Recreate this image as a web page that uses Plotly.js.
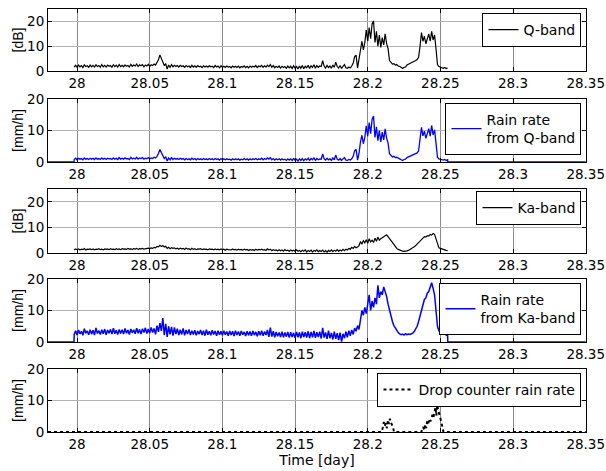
<!DOCTYPE html>
<html>
<head>
<meta charset="utf-8">
<script src="https://cdn.plot.ly/plotly-3.0.1.min.js"></script>
<style>
html,body{margin:0;padding:0;background:#fff;}
#chart{width:606px;height:471px;}
</style>
</head>
<body>
<div id="chart"></div>
<script>
// ---------- sample times [day] ----------
const time = [
27.998,27.999,
28.000,28.001,28.002,28.003,28.004,28.005,28.006,28.007,28.008,28.009,
28.010,28.011,28.012,28.013,28.014,28.015,28.016,28.017,28.018,28.019,
28.020,28.021,28.022,28.023,28.024,28.025,28.026,28.027,28.028,28.029,
28.030,28.031,28.032,28.033,28.034,28.035,28.036,28.037,28.038,28.039,
28.040,28.041,28.042,28.043,28.044,28.045,28.046,28.047,28.048,28.049,
28.050,28.051,28.052,28.053,28.054,28.055,28.056,28.057,28.058,28.059,
28.060,28.061,28.062,28.063,28.064,28.065,28.066,28.067,28.068,28.069,
28.070,28.071,28.072,28.073,28.074,28.075,28.076,28.077,28.078,28.079,
28.080,28.081,28.082,28.083,28.084,28.085,28.086,28.087,28.088,28.089,
28.090,28.091,28.092,28.093,28.094,28.095,28.096,28.097,28.098,28.099,
28.100,28.101,28.102,28.103,28.104,28.105,28.106,28.107,28.108,28.109,
28.110,28.111,28.112,28.113,28.114,28.115,28.116,28.117,28.118,28.119,
28.120,28.121,28.122,28.123,28.124,28.125,28.126,28.127,28.128,28.129,
28.130,28.131,28.132,28.133,28.134,28.135,28.136,28.137,28.138,28.139,
28.140,28.141,28.142,28.143,28.144,28.145,28.146,28.147,28.148,28.149,
28.150,28.151,28.152,28.153,28.154,28.155,28.156,28.157,28.158,28.159,
28.160,28.161,28.162,28.163,28.164,28.165,28.166,28.167,28.168,28.169,
28.170,28.171,28.172,28.173,28.174,28.175,28.176,28.177,28.178,28.179,
28.180,28.181,28.182,28.183,28.184,28.185,28.186,28.187,28.188,28.189,
28.190,28.191,28.192,28.193,28.194,28.195,28.196,28.197,28.198,28.199,
28.200,28.201,28.202,28.203,28.204,28.205,28.206,28.207,28.208,28.209,
28.210,28.211,28.212,28.213,28.214,28.215,28.216,28.217,28.218,28.219,
28.220,28.221,28.222,28.223,28.224,28.225,28.226,28.227,28.228,28.229,
28.230,28.231,28.232,28.233,28.234,28.235,28.236,28.237,28.238,28.239,
28.240,28.241,28.242,28.243,28.244,28.245,28.246,28.247,28.248,28.249,
28.250,28.251,28.252,28.253,28.254,28.255
];

// ---------- Q-band attenuation [dB] ----------
const qBand = [
1.6,2.3,
1.5,2.4,1.7,2.2,1.4,2.5,1.8,2.1,1.5,2.4,
1.7,2.3,1.6,2.5,1.8,2.2,1.5,2.6,1.7,2.3,
1.6,2.4,1.9,2.2,1.5,2.5,1.8,2.4,1.6,2.6,
1.8,2.3,1.7,2.5,1.9,2.2,1.6,2.7,1.9,2.4,
2.0,2.8,1.8,2.5,2.1,2.6,1.7,2.4,2.0,2.7,
1.9,2.5,2.2,2.8,2.4,3.2,4.5,6.5,5.0,3.6,
2.2,3.0,0.8,2.4,1.5,2.6,1.7,2.3,1.8,2.2,
1.6,2.3,1.8,2.1,1.5,2.2,1.7,2.0,1.4,2.3,
1.6,2.1,1.5,2.2,1.7,1.9,1.4,2.1,1.6,2.0,
1.5,2.1,1.7,1.9,1.4,2.2,1.6,2.0,1.3,2.1,
1.5,1.9,1.4,2.0,1.6,1.8,1.3,2.0,1.5,1.9,
1.4,2.0,1.3,1.8,1.5,2.1,1.4,1.9,1.3,2.0,
1.5,1.9,1.6,2.2,1.4,2.0,1.7,2.3,1.5,2.1,
1.6,2.4,1.8,2.6,1.5,2.2,1.3,1.9,1.4,2.0,
1.2,1.9,1.4,1.8,1.1,2.0,1.3,1.9,1.0,2.1,
1.2,1.8,0.8,2.0,1.1,2.2,0.9,1.9,1.3,2.3,
1.0,2.1,1.4,2.5,1.1,2.2,1.5,2.0,1.8,4.2,
2.0,1.2,2.3,1.4,2.0,1.1,2.4,1.5,3.6,1.8,
1.2,2.2,1.0,1.9,2.6,1.3,1.1,1.6,1.2,2.0,
3.2,5.8,6.4,1.2,4.5,9.5,12.0,8.5,11.5,16.5,
12.0,17.5,13.0,19.0,20.2,11.5,16.0,10.0,14.5,9.5,
13.5,10.5,15.0,11.0,9.0,4.2,3.2,2.8,3.0,2.4,
2.6,2.0,1.9,1.4,1.0,1.5,1.6,2.4,2.8,3.0,
3.3,3.6,3.8,4.2,4.6,5.5,10.0,15.5,12.0,14.0,
11.0,13.0,15.0,12.0,16.0,12.5,14.5,9.0,2.6,1.8,
1.6,1.3,1.1,1.4,1.0,1.2
];

// ---------- rain rate from Q-band [mm/h] ----------
const rainQ = [
0.8,1.2,
0.7,1.2,0.9,1.1,0.7,1.3,0.9,1.1,0.8,1.2,
0.9,1.2,0.8,1.3,0.9,1.1,0.8,1.3,0.9,1.2,
0.8,1.2,1.0,1.1,0.8,1.3,0.9,1.2,0.8,1.4,
0.9,1.2,0.9,1.3,1.0,1.1,0.8,1.5,1.0,1.2,
1.0,1.5,0.9,1.3,1.1,1.4,0.9,1.2,1.0,1.4,
1.0,1.3,1.1,1.5,1.3,1.8,2.7,4.0,3.0,2.1,
1.1,1.7,0.3,1.3,0.7,1.4,0.8,1.2,0.9,1.1,
0.8,1.2,0.9,1.1,0.7,1.1,0.8,1.0,0.7,1.2,
0.8,1.1,0.7,1.1,0.8,1.0,0.7,1.1,0.8,1.0,
0.7,1.1,0.8,1.0,0.7,1.1,0.8,1.0,0.6,1.1,
0.7,1.0,0.7,1.0,0.8,0.9,0.6,1.0,0.7,1.0,
0.7,1.0,0.6,0.9,0.7,1.1,0.7,1.0,0.6,1.0,
0.7,1.0,0.8,1.1,0.7,1.0,0.8,1.2,0.7,1.1,
0.8,1.3,0.9,1.4,0.7,1.1,0.6,1.0,0.7,1.0,
0.6,1.0,0.7,0.9,0.5,1.0,0.6,1.0,0.5,1.1,
0.6,0.9,0.3,1.0,0.5,1.1,0.4,1.0,0.6,1.2,
0.5,1.1,0.7,1.3,0.5,1.1,0.7,1.0,0.9,2.6,
1.0,0.6,1.2,0.7,1.0,0.5,1.3,0.7,2.2,0.9,
0.6,1.1,0.5,1.0,1.4,0.6,0.5,0.8,0.6,1.0,
1.8,3.6,4.0,0.6,2.7,6.3,8.5,5.8,7.8,11.5,
8.2,12.5,9.0,13.5,14.6,7.8,11.2,6.8,10.0,6.4,
9.5,7.0,10.5,7.6,6.0,2.6,1.9,1.6,1.8,1.4,
1.5,1.1,1.0,0.7,0.5,0.8,0.9,1.4,1.6,1.8,
2.0,2.2,2.3,2.6,2.9,3.5,7.0,11.0,8.3,9.8,
7.5,9.0,10.6,8.2,11.6,8.6,10.2,6.0,1.5,1.0,
0.9,0.7,0.6,0.8,0.5,0.7
];

// ---------- Ka-band attenuation [dB] ----------
const kaBand = [
1.2,1.6,
1.3,1.6,1.2,1.5,1.3,1.7,1.2,1.5,1.4,1.6,
1.3,1.6,1.2,1.5,1.4,1.7,1.3,1.5,1.2,1.6,
1.4,1.6,1.3,1.7,1.4,1.5,1.3,1.7,1.4,1.6,
1.3,1.7,1.5,1.6,1.4,1.8,1.5,1.6,1.4,1.7,
1.5,1.8,1.4,1.7,1.6,1.8,1.5,1.7,1.6,1.9,
1.7,2.0,1.8,2.2,2.0,2.6,2.4,3.0,2.5,2.9,
2.3,2.6,1.8,2.2,1.7,2.1,1.8,2.0,1.6,1.9,
1.5,1.9,1.6,1.8,1.4,1.9,1.5,1.7,1.3,1.8,
1.4,1.7,1.3,1.6,1.5,1.7,1.3,1.6,1.4,1.5,
1.2,1.6,1.4,1.5,1.2,1.6,1.3,1.5,1.2,1.6,
1.3,1.5,1.1,1.5,1.3,1.4,1.2,1.6,1.2,1.4,
1.1,1.5,1.2,1.4,1.1,1.5,1.2,1.4,1.0,1.4,
1.1,1.3,1.0,1.5,1.1,1.4,1.2,1.5,1.1,1.3,
1.0,1.6,1.2,1.5,0.9,1.3,1.0,1.2,0.8,1.3,
0.9,1.2,0.7,1.3,0.9,1.1,0.6,1.2,0.8,1.1,
0.6,1.2,0.7,1.0,0.5,1.1,0.7,1.2,0.4,1.0,
0.6,1.1,0.4,1.0,0.7,1.2,0.5,1.0,0.6,1.1,
0.4,0.9,0.3,1.0,0.6,1.2,0.5,1.1,0.7,1.3,
0.6,1.2,0.8,1.4,0.9,1.5,1.2,1.8,1.5,2.2,
1.8,2.6,2.0,2.3,2.9,4.3,3.6,4.8,4.0,5.2,
3.8,5.6,4.3,5.0,4.1,5.8,4.6,6.2,5.0,5.6,
6.0,6.4,6.9,7.1,6.4,5.6,4.6,3.7,2.9,2.3,
1.8,1.4,1.1,0.8,0.7,0.6,0.6,0.8,1.0,1.3,
1.6,2.0,2.4,2.9,3.5,4.2,4.8,5.5,5.9,6.4,
6.2,6.8,6.6,7.2,7.0,7.6,7.3,5.4,3.0,2.0,
1.8,1.5,1.3,1.2,1.0,0.9
];

// ---------- rain rate from Ka-band [mm/h] ----------
const rainKa = [
2.4,3.6,
2.2,3.8,2.6,3.4,2.1,4.2,2.8,3.5,2.3,3.9,
2.5,3.7,2.2,4.5,2.7,3.6,2.4,3.9,2.6,4.1,
2.3,3.8,2.8,4.0,2.5,4.4,2.6,3.7,2.4,4.0,
2.7,3.9,2.5,4.3,2.8,3.8,2.4,4.1,2.9,3.9,
2.6,4.4,2.8,4.0,2.5,4.2,3.0,4.5,2.7,4.1,
2.8,4.6,3.0,4.3,2.4,5.2,3.2,6.0,3.5,7.6,
2.2,5.8,1.6,5.0,2.4,4.8,2.0,4.6,2.5,4.2,
2.2,3.9,2.4,4.3,2.1,3.8,2.5,4.0,2.2,3.6,
2.4,3.7,2.1,3.5,2.5,3.8,2.2,3.6,2.0,3.9,
2.3,3.4,2.1,3.7,2.4,3.5,2.0,3.6,2.3,3.4,
2.1,3.6,2.3,3.3,2.0,3.5,2.2,3.4,1.9,3.6,
2.2,3.3,2.0,3.5,2.3,3.2,1.9,3.4,2.1,3.3,
2.0,3.5,2.2,3.2,1.8,3.4,2.1,3.6,2.0,3.3,
2.2,3.8,1.6,4.6,1.7,3.4,1.5,3.2,1.8,3.0,
1.6,3.3,1.5,3.0,1.7,3.2,1.4,3.1,1.6,2.9,
1.3,3.2,1.5,3.0,1.2,3.3,1.6,3.1,1.4,3.4,
1.2,3.2,1.5,3.5,1.3,3.1,1.6,3.3,1.1,4.5,
1.4,3.0,1.0,3.6,1.2,2.9,0.8,3.3,1.0,2.8,
0.6,3.0,0.1,2.6,1.2,3.3,1.5,3.6,2.0,3.8,
2.4,4.4,3.4,5.2,4.0,6.8,10.0,8.5,11.0,9.0,
12.0,15.0,10.0,13.0,11.0,14.0,12.0,18.0,14.0,16.0,
15.0,17.5,16.0,14.5,12.0,10.0,8.0,6.5,5.2,4.3,
3.6,3.0,2.6,2.3,2.5,2.2,2.6,2.3,2.5,2.4,
2.6,2.8,3.3,4.0,5.0,6.5,8.5,10.5,12.0,13.5,
14.0,15.5,16.0,17.5,18.8,17.0,15.0,10.0,5.0,3.5,
3.0,2.6,3.2,2.5,2.2,2.0
];

// ---------- zero rain rate outside the measured interval ----------
const edgeTimeStart = [27.98, 27.9979];
const edgeTimeEnd = [28.2551, 28.35];
const edgeZero = [0, 0];

// ---------- drop counter rain rate [mm/h] ----------
const dropTime = [
27.98,
28.2097,28.2104,28.2111,28.2118,28.2125,28.2132,28.2139,28.2146,28.2153,28.2160,28.2167,28.2174,28.2181,
28.2368,28.2375,28.2382,28.2389,28.2396,28.2403,28.2410,28.2417,28.2424,28.2431,28.2438,28.2445,
28.2452,28.2459,28.2466,28.2472,28.2479,28.2486,28.2493,28.2500,28.2507,28.2514,28.2521,
28.35
];
const dropRate = [
0,
0,1.5,3.2,2.0,2.8,1.2,3.8,2.5,4.2,3.0,2.2,1.6,0,
0,0.8,1.6,0.5,2.4,1.2,3.6,2.8,4.2,3.4,4.0,5.5,
4.6,6.2,7.8,5.2,8.6,6.8,5.8,4.4,3.0,1.4,0,
0
];

// ---------- ticks and labels ----------
const xTickVals = [28, 28.05, 28.1, 28.15, 28.2, 28.25, 28.3, 28.35];
const xTickText = ["28", "28.05", "28.1", "28.15", "28.2", "28.25", "28.3", "28.35"];
const yTickVals = [0, 10, 20];
const seriesNames = ["Q-band", "Rain rate<br>from Q-band", "Ka-band", "Rain rate<br>from Ka-band", "Drop counter rain rate"];
const yTitles = ["[dB]", "[mm/h]", "[dB]", "[mm/h]", "[mm/h]"];

const rqTime = edgeTimeStart.concat(time, edgeTimeEnd);
const rqVals = edgeZero.concat(rainQ, edgeZero);
const rkVals = edgeZero.concat(rainKa, edgeZero);

const BLUE = "#0000ff";
const traces = [
  {x: time, y: qBand, xaxis: "x", yaxis: "y", name: seriesNames[0], legend: "legend",
   mode: "lines", line: {color: "#000", width: 1.2}},
  {x: rqTime, y: rqVals, xaxis: "x2", yaxis: "y2", name: seriesNames[1], legend: "legend2",
   mode: "lines", line: {color: BLUE, width: 1.3}},
  {x: time, y: kaBand, xaxis: "x3", yaxis: "y3", name: seriesNames[2], legend: "legend3",
   mode: "lines", line: {color: "#000", width: 1.2}},
  {x: rqTime, y: rkVals, xaxis: "x4", yaxis: "y4", name: seriesNames[3], legend: "legend4",
   mode: "lines", line: {color: BLUE, width: 1.5}},
  {x: dropTime, y: dropRate, xaxis: "x5", yaxis: "y5", name: seriesNames[4], legend: "legend5",
   mode: "lines", line: {color: "#000", width: 2, dash: "dot"}}
];

const TICKFONT = {family: "DejaVu Sans", size: 13.5, color: "#000"};
function xAxis(anchor, withTitle) {
  const a = {
    anchor: anchor, range: [27.98, 28.3502], tickmode: "array",
    tickvals: xTickVals, ticktext: xTickText, tickfont: TICKFONT,
    ticklabeloverflow: "allow",
    showline: true, linecolor: "#000", linewidth: 1, mirror: "ticks",
    ticks: "inside", ticklen: 4, tickcolor: "#000", tickwidth: 1,
    showgrid: true, gridcolor: "#8c8c8c", gridwidth: 1, zeroline: false
  };
  if (withTitle) a.title = {text: "Time [day]", font: {family: "DejaVu Sans", size: 14, color: "#000"}, standoff: 2};
  return a;
}
function yAxis(anchor, domain, top, title) {
  return {
    anchor: anchor, domain: domain, range: [0, top], tickmode: "array",
    tickvals: yTickVals, tickfont: TICKFONT,
    showline: true, linecolor: "#000", linewidth: 1, mirror: "ticks",
    ticks: "inside", ticklen: 4, tickcolor: "#000", tickwidth: 1,
    showgrid: true, gridcolor: "#b4b4b4", gridwidth: 1, zeroline: false,
    title: {text: title, font: {family: "Liberation Sans, Arial", size: 14, color: "#000"}, standoff: 0}
  };
}
function legendAt(y) {
  return {
    x: 0.9916, y: y, xanchor: "right", yanchor: "top", xref: "paper", yref: "paper",
    bgcolor: "#fff", bordercolor: "#000", borderwidth: 1,
    font: {family: "DejaVu Sans", size: 14, color: "#000"}, itemwidth: 30
  };
}

const layout = {
  width: 606, height: 471,
  margin: {l: 48, r: 20, t: 9, b: 39},
  paper_bgcolor: "#fff", plot_bgcolor: "#fff",
  showlegend: true,
  xaxis: xAxis("y", false),
  xaxis2: xAxis("y2", false),
  xaxis3: xAxis("y3", false),
  xaxis4: xAxis("y4", false),
  xaxis5: xAxis("y5", true),
  yaxis: yAxis("x", [0.8534, 1], 25, yTitles[0]),
  yaxis2: yAxis("x2", [0.6383, 0.7872], 20, yTitles[1]),
  yaxis3: yAxis("x3", [0.4232, 0.5745], 25, yTitles[2]),
  yaxis4: yAxis("x4", [0.2128, 0.3617], 20, yTitles[3]),
  yaxis5: yAxis("x5", [0, 0.1489], 20, yTitles[4]),
  legend: legendAt(0.9905),
  legend2: legendAt(0.7778),
  legend3: legendAt(0.5697),
  legend4: legendAt(0.3522),
  legend5: legendAt(0.1395)
};

Plotly.newPlot("chart", traces, layout, {staticPlot: true, displayModeBar: false});
</script>
</body>
</html>
